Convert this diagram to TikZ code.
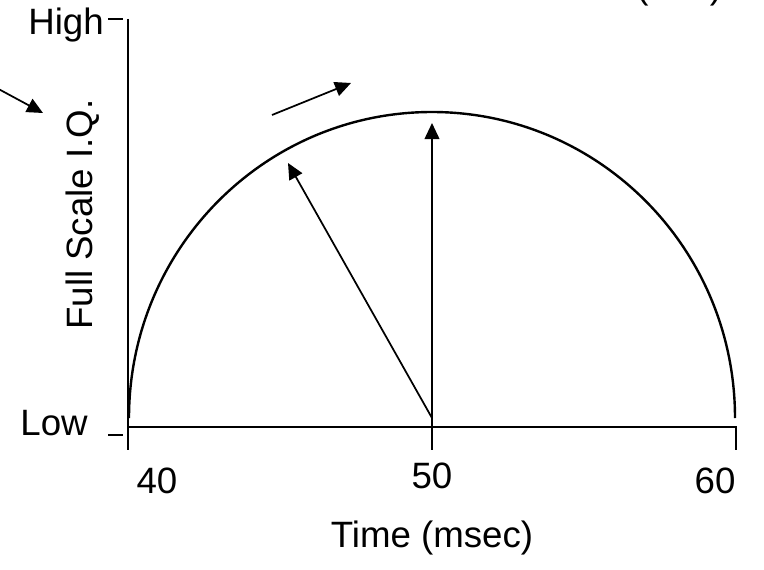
\documentclass[tikz,border=0pt]{standalone}
\usepackage{fontspec}
\setmainfont{Liberation Sans}
\usetikzlibrary{arrows.meta}

\begin{document}
\begin{tikzpicture}[x=0.75pt,y=0.75pt,>={Triangle[length=12pt,width=11pt]},
  every node/.style={font=\fontsize{27.5}{33}\selectfont,inner sep=0pt},
  axisline/.style={line width=1.8pt},pointer/.style={->,line width=1.3pt}]
\useasboundingbox (0,0) rectangle (764,569); \clip (0,0) rectangle (764,569);
% axes and ticks
\coordinate (ytop) at (128,550); \coordinate (o) at (128,142); \coordinate (ybot) at (128,119);
\coordinate (m) at (432,142); \coordinate (mbot) at (432,119); \coordinate (r) at (736,142); \coordinate (rbot) at (736,119);
\draw[axisline] (ytop)--(ybot); \draw[axisline] (o)--(r)--(rbot); \draw[axisline] (m)--(mbot);
\coordinate (hi1) at (108,550); \coordinate (hi2) at (123,550); \draw[axisline] (hi1)--(hi2);
\coordinate (lo1) at (108,134); \coordinate (lo2) at (123,134); \draw[axisline] (lo1)--(lo2);
% curve
\coordinate (c) at (432,151);
\draw[axisline] (c) ++(-303,0) arc[start angle=180,end angle=0,x radius=303,y radius=306];
% arrows
\coordinate (vtip) at (432,446); \draw[pointer] (m)--(vtip);
\coordinate (dtip) at (288,406); \draw[pointer] (c)--(dtip);
\coordinate (t1) at (272,454); \coordinate (t2) at (351,486); \draw[pointer] (t1)--(t2);
\coordinate (l1) at (-20,490); \coordinate (l2) at (43,456); \draw[pointer] (l1)--(l2);
% labels
\node[anchor=base east] (high) at (104,534) {High};
\node[anchor=base east] (low) at (88,134) {Low};
\node[rotate=90,anchor=base west] (ylab) at (92,239) {Full Scale I.Q.};
\node[anchor=base] (t40) at (157,76) {40}; \node[anchor=base] (t50) at (432,81) {50}; \node[anchor=base] (t60) at (715,76) {60};
\node[anchor=base] (xlab) at (432,22) {Time (msec)};
\node[anchor=base west] (unit) at (636,570) {(\hspace{46pt})};
\end{tikzpicture}
\end{document}
